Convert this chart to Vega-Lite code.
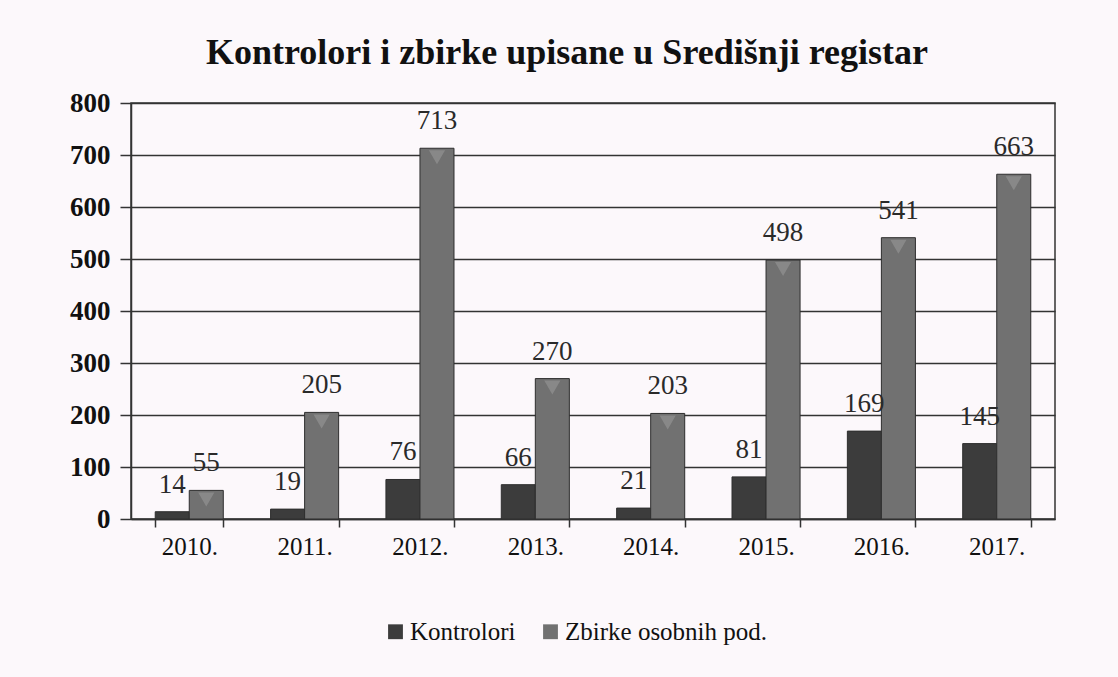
{
  "$schema": "https://vega.github.io/schema/vega-lite/v6.json",
  "width": 924,
  "height": 416,
  "autosize": {"type": "none"},
  "padding": {"left": 131, "top": 103, "right": 63, "bottom": 158},
  "background": "#fcf8fb",
  "title": {
    "text": "Kontrolori i zbirke upisane u Središnji registar",
    "font": "Liberation Serif",
    "fontSize": 36,
    "fontWeight": "bold",
    "color": "#111111",
    "offset": 17,
    "dx": -26
  },
  "config": {
    "font": "Liberation Serif",
    "view": {"stroke": "#333333", "strokeWidth": 1.5},
    "legend": {"labelFont": "Liberation Serif", "labelFontSize": 25}
  },
  "data": {
    "values": [
      {"year": "2010.", "series": "Kontrolori", "value": 14},
      {"year": "2010.", "series": "Zbirke osobnih pod.", "value": 55},
      {"year": "2011.", "series": "Kontrolori", "value": 19},
      {"year": "2011.", "series": "Zbirke osobnih pod.", "value": 205},
      {"year": "2012.", "series": "Kontrolori", "value": 76},
      {"year": "2012.", "series": "Zbirke osobnih pod.", "value": 713},
      {"year": "2013.", "series": "Kontrolori", "value": 66},
      {"year": "2013.", "series": "Zbirke osobnih pod.", "value": 270},
      {"year": "2014.", "series": "Kontrolori", "value": 21},
      {"year": "2014.", "series": "Zbirke osobnih pod.", "value": 203},
      {"year": "2015.", "series": "Kontrolori", "value": 81},
      {"year": "2015.", "series": "Zbirke osobnih pod.", "value": 498},
      {"year": "2016.", "series": "Kontrolori", "value": 169},
      {"year": "2016.", "series": "Zbirke osobnih pod.", "value": 541},
      {"year": "2017.", "series": "Kontrolori", "value": 145},
      {"year": "2017.", "series": "Zbirke osobnih pod.", "value": 663}
    ]
  },
  "encoding": {
    "x": {
      "field": "year",
      "type": "nominal",
      "sort": null,
      "scale": {"paddingInner": 0.41, "paddingOuter": 0.21},
      "axis": {
        "title": null,
        "labelAngle": 0,
        "labelFont": "Liberation Serif",
        "labelFontSize": 25,
        "labelColor": "#111111",
        "labelPadding": 7,
        "tickBand": "extent",
        "tickSize": 8,
        "tickColor": "#333333",
        "tickWidth": 1.5,
        "domainColor": "#333333",
        "domainWidth": 1.5,
        "grid": false
      }
    },
    "xOffset": {"field": "series", "type": "nominal", "sort": ["Kontrolori", "Zbirke osobnih pod."]},
    "y": {
      "field": "value",
      "type": "quantitative",
      "scale": {"domain": [0, 800]},
      "axis": {
        "title": null,
        "values": [0, 100, 200, 300, 400, 500, 600, 700, 800],
        "labelFont": "Liberation Serif",
        "labelFontSize": 27,
        "labelFontWeight": "bold",
        "labelColor": "#111111",
        "labelPadding": 10,
        "tickSize": 11,
        "tickColor": "#333333",
        "tickWidth": 1.5,
        "domainColor": "#333333",
        "domainWidth": 1.5,
        "grid": true,
        "gridColor": "#333333",
        "gridWidth": 1.5
      }
    }
  },
  "layer": [
    {
      "mark": {"type": "bar", "stroke": "#2e2e2e", "strokeWidth": 1},
      "encoding": {
        "color": {
          "field": "series",
          "type": "nominal",
          "sort": ["Kontrolori", "Zbirke osobnih pod."],
          "scale": {"domain": ["Kontrolori", "Zbirke osobnih pod."], "range": ["#3c3c3c", "#717171"]},
          "legend": {
            "title": null,
            "orient": "none",
            "legendX": 252,
            "legendY": 516,
            "direction": "horizontal",
            "labelFont": "Liberation Serif",
            "labelFontSize": 25,
            "labelColor": "#111111",
            "labelLimit": 0,
            "symbolType": "square",
            "symbolSize": 220,
            "symbolStrokeWidth": 0,
            "symbolOpacity": 1,
            "labelOffset": 2,
            "columnPadding": 22
          }
        }
      }
    },
    {
      "transform": [{"filter": "datum.series === 'Zbirke osobnih pod.'"}],
      "mark": {"type": "point", "shape": "triangle-down", "filled": true, "size": 260, "color": "#8f8f8f", "opacity": 0.8, "yOffset": 9},
      "encoding": {}
    },
    {
      "mark": {
        "type": "text",
        "dy": -27,
        "baseline": "middle",
        "align": "center",
        "font": "Liberation Serif",
        "fontSize": 27,
        "color": "#2a2a2a"
      },
      "encoding": {"text": {"field": "value", "type": "quantitative"}}
    }
  ]
}
